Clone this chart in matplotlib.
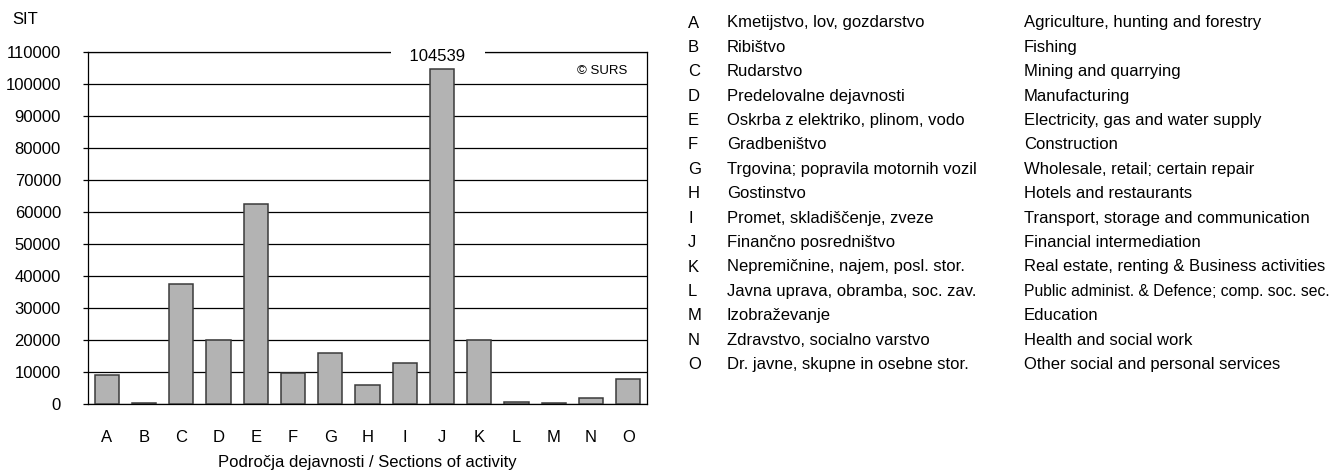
import matplotlib
matplotlib.use("Agg")
import matplotlib.pyplot as plt
from matplotlib import font_manager

codes = ["A", "B", "C", "D", "E", "F", "G", "H", "I", "J", "K", "L", "M", "N", "O"]
values = [8900, 400, 37600, 19850, 62400, 9650, 16000, 5800, 12800, 104539, 19850, 600, 300, 1950, 7650]
names_sl = [
    "Kmetijstvo, lov, gozdarstvo",
    "Ribištvo",
    "Rudarstvo",
    "Predelovalne dejavnosti",
    "Oskrba z elektriko, plinom, vodo",
    "Gradbeništvo",
    "Trgovina; popravila motornih vozil",
    "Gostinstvo",
    "Promet, skladiščenje, zveze",
    "Finančno posredništvo",
    "Nepremičnine, najem, posl. stor.",
    "Javna uprava, obramba, soc. zav.",
    "Izobraževanje",
    "Zdravstvo, socialno varstvo",
    "Dr. javne, skupne in osebne stor.",
]
names_en = [
    "Agriculture, hunting and forestry",
    "Fishing",
    "Mining and quarrying",
    "Manufacturing",
    "Electricity, gas and water supply",
    "Construction",
    "Wholesale, retail; certain repair",
    "Hotels and restaurants",
    "Transport, storage and communication",
    "Financial intermediation",
    "Real estate, renting & Business activities",
    "Public administ. & Defence; comp. soc. sec.",
    "Education",
    "Health and social work",
    "Other social and personal services",
]
yticks = list(range(0, 110001, 10000))

avail = {f.name for f in font_manager.fontManager.ttflist}
base = "Liberation Sans" if "Liberation Sans" in avail else "DejaVu Sans"
plt.rcParams["font.family"] = [base, "DejaVu Sans"]

W, H = 1331, 471
fig = plt.figure(figsize=(W / 100, H / 100), dpi=100)
ax = fig.add_axes([88 / W, 1 - 404 / H, (647 - 88) / W, (404 - 51.7) / H])

x = list(range(len(codes)))
ax.set_axisbelow(True)
ax.yaxis.grid(True, color="black", linewidth=0.9)
ax.bar(x, values, width=0.65, color="#b3b3b3", edgecolor="#3a3a3a", linewidth=1.1, zorder=3)
ax.set_xlim(-0.5, len(codes) - 0.5)
ax.set_ylim(0, 110000)
ax.set_yticks(yticks)
ax.set_yticklabels([str(v) for v in yticks], fontsize=12)
ax.set_xticks(x)
ax.set_xticklabels(codes, fontsize=12)
ax.tick_params(axis="x", length=0, pad=19)
ax.tick_params(axis="y", length=3.5, width=0.9, pad=16)
for s in ax.spines.values():
    s.set_color("black")
    s.set_linewidth(0.9)

j = values.index(max(values))
ax.text(j - 0.12, 108600, "    " + str(values[j]) + "    ", ha="center", va="center", fontsize=12,
        bbox=dict(facecolor="white", edgecolor="none", pad=0.5), zorder=10, clip_on=False)
ax.text(0.965, 0.945, "© SURS", transform=ax.transAxes, ha="right", va="center", fontsize=9.5)

fig.text(12 / W, 1 - 20 / H, "SIT", ha="left", va="center", fontsize=12)
fig.text((88 + 647) / 2 / W, 1 - 463 / H, "Področja dejavnosti / Sections of activity",
         ha="center", va="center", fontsize=12)

y0, dy = 23, 24.4
for i, (c, s1, s2) in enumerate(zip(codes, names_sl, names_en)):
    yy = 1 - (y0 + i * dy) / H
    fig.text(688 / W, yy, c, ha="left", va="center", fontsize=12)
    fig.text(727 / W, yy, s1, ha="left", va="center", fontsize=12)
    fs = 11.3 if len(s2) > 42 else 12
    fig.text(1024 / W, yy, s2, ha="left", va="center", fontsize=fs)

fig.savefig("out.png", dpi=100)
